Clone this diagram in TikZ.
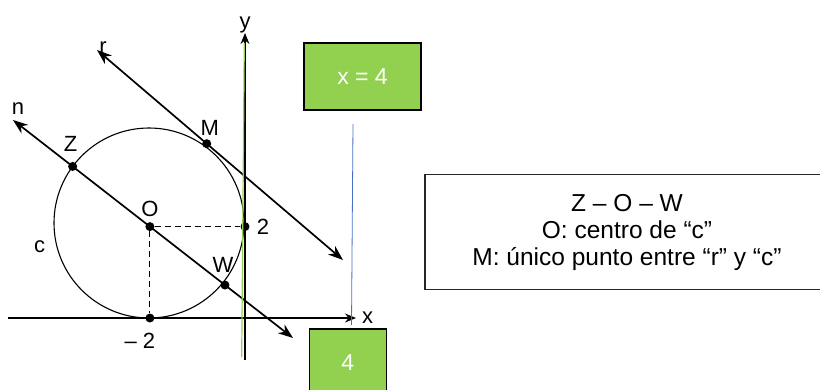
\documentclass[tikz,border=0pt]{standalone}
\usepackage{fontspec}
\setmainfont{Liberation Sans}
\usetikzlibrary{positioning,calc,arrows.meta}
\definecolor{boxgreen}{HTML}{92D050}
\definecolor{lineblue}{HTML}{4472C4}

\begin{document}
\begin{tikzpicture}[
    x=1pt, y=-1pt,
    >={Stealth[length=15pt, width=11pt]},
    axis/.style={line width=1.3pt, -{Stealth[length=11pt, width=9pt]}},
    line/.style={line width=1.7pt, <->},
    pt/.style={circle, fill=black, inner sep=0pt, minimum size=9pt},
    lbl/.style={inner sep=1pt, font=\fontsize{22}{24}\selectfont},
    gbox/.style={draw=black, line width=1.6pt, fill=boxgreen, text=white,
      font=\fontsize{23}{26}\selectfont},
    infobox/.style={draw=black!85, line width=1.2pt, align=center,
      font=\fontsize{24.5}{27}\selectfont}
  ]
  \useasboundingbox (0,0) rectangle (820,389);
  \clip (0,0) rectangle (820,389);

  % Axes
  \coordinate (xL) at (8,318);
  \coordinate (xR) at (356,318);
  \coordinate (yB) at (245,360);
  \coordinate (yT) at (245,33);
  \draw[axis] (xL) -- (xR);
  \draw[axis] (yB) -- (yT);

  % Circle c
  \node[circle, draw, line width=1.1pt, minimum size=190pt, inner sep=0pt] (c) at (149,223) {};

  % Lines n and r
  \coordinate (nA) at (13,120);
  \coordinate (nB) at (293,338);
  \coordinate (rA) at (97,50);
  \coordinate (rB) at (343,260);
  \draw[line] (nA) -- (nB);
  \draw[line] (rA) -- (rB);

  % Points
  \node[pt] (Z) at ($(nA)!0.213!(nB)$) {};
  \node[pt] (O) at ($(nA)!0.489!(nB)$) {};
  \node[pt] (W) at ($(nA)!0.757!(nB)$) {};
  \node[pt] (M) at ($(rA)!0.446!(rB)$) {};
  \node[pt] (P2) at (O -| yB) {};
  \node[pt] (Pm2) at (O |- xL) {};

  % Dashed projections
  \draw[dashed, dash pattern=on 6pt off 4pt, line width=1pt] (O) -- (P2);
  \draw[dashed, dash pattern=on 6pt off 4pt, line width=1pt] (O) -- (Pm2);

  % Green and blue marks
  \coordinate (gT) at (244.3,43);
  \coordinate (gB) at (241.7,357);
  \draw[boxgreen, line width=1.2pt] (gT) -- (gB);
  \coordinate (bT) at (353,124);
  \coordinate (bB) at (351.5,325);
  \draw[lineblue, line width=0.8pt] (bT) -- (bB);

  % Labels
  \node[lbl, above=9pt of Z, xshift=-2pt] {Z};
  \node[lbl, above=2pt of M, xshift=3pt] {M};
  \node[lbl, above=4pt of O] {O};
  \node[lbl, above=7pt of W, xshift=-2pt] {W};
  \node[lbl, right=6pt of P2] {2};
  \node[lbl, below=9pt of Pm2, xshift=-10pt] {– 2};
  \node[lbl, above=4pt of nA, xshift=5pt] {n};
  \node[lbl, above=-5pt of rA, xshift=6pt] {r};
  \node[lbl, left=7pt of c.west, yshift=-24pt] {c};
  \node[lbl, right=5pt of xR] {x};
  \node[lbl, above=-1pt of yT] {y};

  % Boxes
  \node[gbox, minimum width=117pt, minimum height=67pt] (eq) at (362.5,76.6) {x = 4};
  \node[gbox, minimum width=77pt, minimum height=68pt] (four) at (347.8,363) {4};
  \node[infobox, minimum width=404pt, minimum height=115pt] (info) at (627,232)
    {Z – O – W\\ O: centro de “c”\\ M: único punto entre “r” y “c”};
\end{tikzpicture}
\end{document}
